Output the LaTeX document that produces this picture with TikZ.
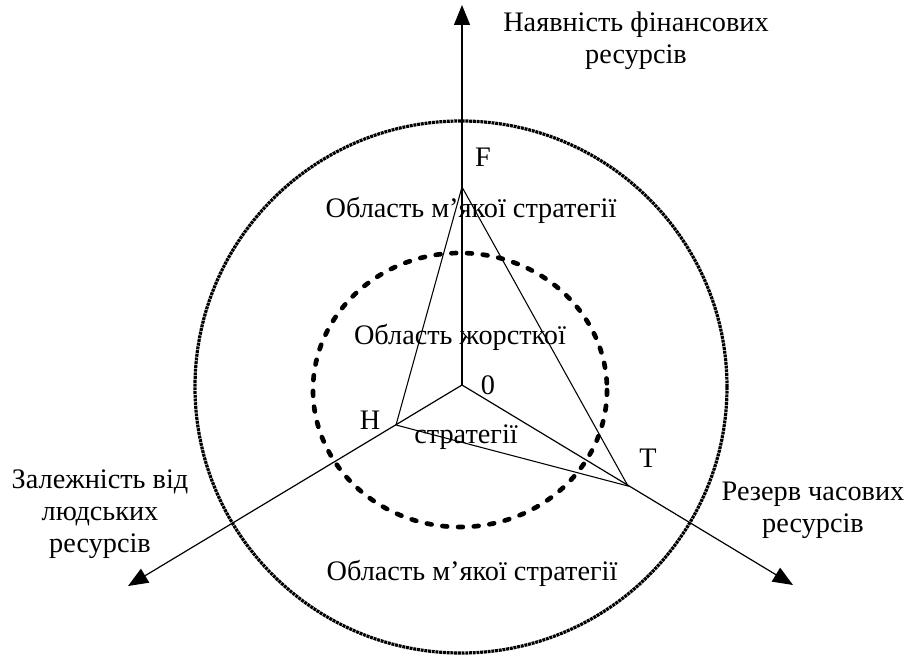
\documentclass[tikz,border=0pt]{standalone}
\usepackage{fontspec}
\setmainfont{LiberationSerif}[Extension=.ttf,UprightFont=*-Regular,BoldFont=*-Bold]
\usetikzlibrary{arrows.meta}
\begin{document}
\begin{tikzpicture}[x=0.75pt,y=-0.75pt,
  axis/.style={line width=0.9pt,-{Triangle[length=15pt,width=12pt]}},
  tri/.style={line width=0.8pt},
  outer/.style={line width=2.4pt,dash pattern=on 2.2pt off 0.6pt},
  inner/.style={line width=3.5pt,line cap=round,dash pattern=on 3.6pt off 8.2pt},
  lbl/.style={font=\fontsize{21.2pt}{24pt}\selectfont,align=center,inner sep=0pt}]
\useasboundingbox (0,0) rectangle (909,655);
\fill[white] (0,0) rectangle (909,655);
% key points
\coordinate (O) at (462,385);
\coordinate (F) at (462,187);
\coordinate (H) at (396,425);
\coordinate (T) at (628,486);
\coordinate (topTip) at (462,5);
\coordinate (leftTip) at (128,586);
\coordinate (rightTip) at (793,585);
\coordinate (C) at (461,387);
\coordinate (Ci) at (460,390);
% circles
\draw[outer] (C) circle[radius=266];
\draw[inner] (Ci) ellipse[x radius=147,y radius=137];
% axes
\draw[axis] (O) -- (topTip);
\draw[axis] (O) -- (leftTip);
\draw[axis] (O) -- (rightTip);
% triangle
\draw[tri] (F) -- (H) -- (T) -- cycle;
% labels
\node[lbl] (lF) at (636,41) {Наявність фінансових\\ресурсів};
\node[lbl] (lT) at (813,510) {Резерв часових\\ресурсів};
\node[lbl] (lH) at (100,514) {Залежність від\\людських\\ресурсів};
\node[lbl] (sF) at (483,157) {F};
\node[lbl] (sO) at (488,385) {0};
\node[lbl] (sH) at (370,420) {H};
\node[lbl] (sT) at (648,458) {T};
\node[lbl] (soft1) at (471,210) {Область м’якої стратегії};
\node[lbl] (hard1) at (460,337) {Область жорсткої};
\node[lbl] (hard2) at (466,437) {стратегії};
\node[lbl] (soft2) at (472,573) {Область м’якої стратегії};
\end{tikzpicture}
\end{document}
